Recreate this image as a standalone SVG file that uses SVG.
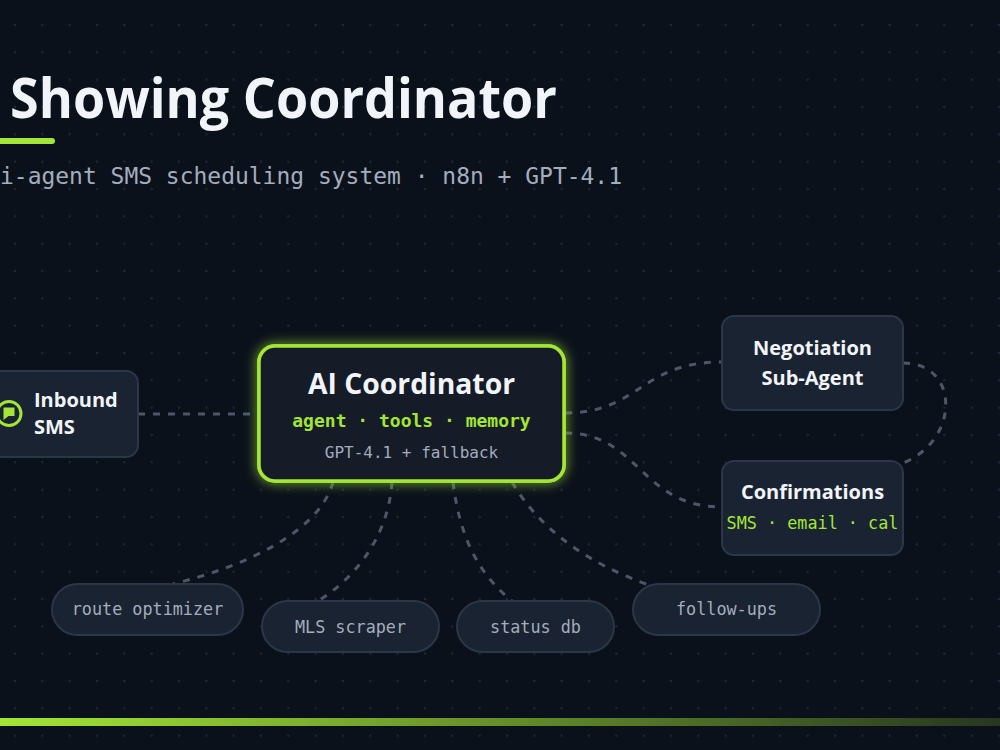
<svg xmlns="http://www.w3.org/2000/svg" width="1000" height="750" viewBox="0 0 1000 750">
  <defs>
    <pattern id="dots" patternUnits="userSpaceOnUse" x="1.33" y="11.33" width="27.333" height="27.333">
      <circle cx="13.67" cy="13.67" r="1.2" fill="#1d2736"/>
    </pattern>
    <linearGradient id="barGrad" x1="0" y1="0" x2="1" y2="0">
      <stop offset="0" stop-color="#a3e635" stop-opacity="1"/>
      <stop offset="1" stop-color="#a3e635" stop-opacity="0.18"/>
    </linearGradient>
    <filter id="glow" x="-20%" y="-30%" width="140%" height="160%">
      <feGaussianBlur in="SourceGraphic" stdDeviation="6" result="b"/>
      <feMerge>
        <feMergeNode in="b"/>
        <feMergeNode in="SourceGraphic"/>
      </feMerge>
    </filter>
    <style>
      .node { fill: #1a2331; stroke: #2c3648; stroke-width: 2; }
      .pill { fill: #1a2331; stroke: #2c3648; stroke-width: 2; }
      .lbl { font-family: "Open Sans", "Noto Sans", sans-serif; font-weight: 700; fill: #f1f5f9; }
      .mono { font-family: "DejaVu Sans Mono", "Liberation Mono", monospace; }
      .lime { fill: #a3e635; }
      .gray { fill: #a3adbd; }
      .conn { fill: none; stroke: #4d5768; stroke-width: 3; stroke-dasharray: 7 8; }
    </style>
  </defs>

  <rect x="0" y="0" width="1000" height="750" fill="#0b111b"/>
  <rect x="0" y="0" width="1000" height="750" fill="url(#dots)"/>

  <!-- Title -->
  <g id="title">
    <text x="10" y="118" class="lbl" font-size="55" fill="#ffffff" textLength="547" lengthAdjust="spacingAndGlyphs">Showing Coordinator</text>
    <rect x="-10" y="138" width="65" height="6" rx="3" fill="#a3e635"/>
    <text x="0" y="184" class="mono" font-size="23" fill="#a3adbd" textLength="622" lengthAdjust="spacingAndGlyphs">i-agent SMS scheduling system · n8n + GPT-4.1</text>
  </g>

  <!-- Connectors -->
  <g id="connectors">
    <path class="conn" d="M138,414 L259,414"/>
    <path class="conn" d="M565,413 C640,413 640,362 722,362"/>
    <path class="conn" d="M565,433 C640,433 640,507 722,507"/>
    <path class="conn" d="M903,363 C960,363 960,440 903,463"/>
    <path class="conn" d="M333,482 C320,530 250,565 173,584"/>
    <path class="conn" d="M392,482 C388,540 352,580 318,601"/>
    <path class="conn" d="M453,482 C460,540 480,575 512,601"/>
    <path class="conn" d="M512,482 C540,530 590,565 652,586"/>
  </g>

  <!-- Inbound SMS -->
  <g id="node-inbound">
    <rect class="node" x="-50" y="371" width="188" height="86" rx="12"/>
    <circle cx="9" cy="413.5" r="12" fill="none" stroke="#a3e635" stroke-width="3"/>
    <path d="M3.5,407.5 h11 v8.5 h-6 l-5,4 z" fill="#a3e635"/>
    <text x="34" y="407" class="lbl" font-size="20">Inbound</text>
    <text x="34" y="434" class="lbl" font-size="20">SMS</text>
  </g>

  <!-- AI Coordinator -->
  <g id="node-ai">
    <rect x="259" y="346" width="305" height="135" rx="16" fill="#151b27" stroke="#a3e635" stroke-width="3.5" filter="url(#glow)"/>
    <rect x="259" y="346" width="305" height="135" rx="16" fill="#151b27" stroke="#a3e635" stroke-width="3.5"/>
    <text x="411.5" y="394" text-anchor="middle" class="lbl" font-size="28.3">AI Coordinator</text>
    <text x="411.5" y="427" text-anchor="middle" class="mono lime" font-size="18" font-weight="700">agent · tools · memory</text>
    <text x="411.5" y="458" text-anchor="middle" class="mono gray" font-size="16">GPT-4.1 + fallback</text>
  </g>

  <!-- Negotiation Sub-Agent -->
  <g id="node-negotiation">
    <rect class="node" x="722" y="316" width="181" height="94" rx="12"/>
    <text x="812.5" y="355" text-anchor="middle" class="lbl" font-size="20">Negotiation</text>
    <text x="812.5" y="385" text-anchor="middle" class="lbl" font-size="20">Sub-Agent</text>
  </g>

  <!-- Confirmations -->
  <g id="node-confirmations">
    <rect class="node" x="722" y="461" width="181" height="94" rx="12"/>
    <text x="812.5" y="499" text-anchor="middle" class="lbl" font-size="20">Confirmations</text>
    <text x="812.5" y="529" text-anchor="middle" class="mono lime" font-size="16.8">SMS · email · cal</text>
  </g>

  <!-- Tool pills -->
  <g id="node-route">
    <rect class="pill" x="52" y="584" width="191" height="51" rx="25.5"/>
    <text x="147.5" y="615" text-anchor="middle" class="mono gray" font-size="16.8">route optimizer</text>
  </g>
  <g id="node-mls">
    <rect class="pill" x="262" y="601" width="177" height="51" rx="25.5"/>
    <text x="350.5" y="632.5" text-anchor="middle" class="mono gray" font-size="16.8">MLS scraper</text>
  </g>
  <g id="node-status">
    <rect class="pill" x="457" y="601" width="157" height="51" rx="25.5"/>
    <text x="535.5" y="632.5" text-anchor="middle" class="mono gray" font-size="16.8">status db</text>
  </g>
  <g id="node-followups">
    <rect class="pill" x="633" y="584" width="187" height="51" rx="25.5"/>
    <text x="726.5" y="615" text-anchor="middle" class="mono gray" font-size="16.8">follow-ups</text>
  </g>

  <!-- Bottom bar -->
  <rect x="0" y="718" width="1000" height="8" fill="url(#barGrad)"/>
</svg>
